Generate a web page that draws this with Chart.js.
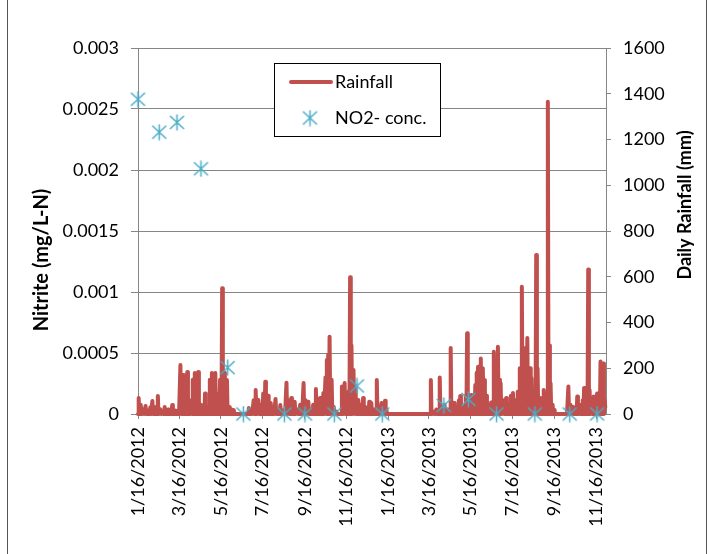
<!DOCTYPE html>
<html>
<head>
<meta charset="utf-8">
<script src="https://cdn.jsdelivr.net/npm/chart.js@4.4.1/dist/chart.umd.min.js"></script>
<style>
  html, body { margin: 0; padding: 0; background: #fff; }
  #wrap { width: 715px; height: 554px; }
</style>
</head>
<body>
<div id="wrap"><canvas id="chart" width="715" height="554"></canvas></div>
<script>
// days counted from 1/16/2012
const tickDays = [0, 60, 121, 182, 244, 305, 366, 425, 486, 547, 609, 670];
const tickLabels = ['1/16/2012', '3/16/2012', '5/16/2012', '7/16/2012', '9/16/2012', '11/16/2012',
                    '1/16/2013', '3/16/2013', '5/16/2013', '7/16/2013', '9/16/2013', '11/16/2013'];
const lastDay = 684;

// rainy days only (mm); every other day is 0
const rainDays = [1, 4, 8, 11, 15, 18, 21, 25, 29, 33, 36, 39, 44, 47, 50, 55, 58, 62, 64, 66, 69, 72, 75, 78, 80, 83, 86, 88, 92, 95, 98, 102, 105, 108, 110, 113, 116, 118, 120, 123, 126, 128, 130, 133, 137, 140,
  162, 165, 169, 172, 176, 180, 183, 186, 190, 194, 198, 201, 205, 208, 212, 217, 220, 224, 229, 233, 237, 242, 245, 249, 253, 256, 260, 263, 266, 271, 274, 276, 278, 280, 283, 286, 290, 298, 302, 305, 308, 310, 312, 315, 318, 322, 325, 329, 333, 338, 341, 345, 349, 353, 356, 361, 363,
  428, 432, 436, 441, 444, 448, 452, 457, 459, 462, 466, 469, 471, 476, 479, 481, 484, 487, 490, 493, 495, 497, 499, 501, 504, 506, 509, 512, 516, 520, 523, 526, 528, 530, 534, 538, 542, 545, 548, 551, 555, 558, 561, 563, 566, 569, 573, 575, 578, 582, 584, 586, 588, 591, 593, 596, 599, 601, 603, 606, 608,
  629, 632, 635, 639, 642, 645, 647, 650, 652, 655, 658, 660, 663, 666, 669, 671, 674, 676, 678, 680, 682, 683];
const rainMm = [70, 40, 20, 35, 15, 30, 57, 30, 79, 20, 10, 31, 20, 10, 39, 15, 10, 214, 150, 170, 120, 184, 60, 30, 150, 179, 170, 184, 40, 20, 90, 30, 150, 179, 120, 179, 90, 40, 150, 550, 180, 120, 149, 31, 20, 17,
  26, 10, 60, 105, 61, 40, 90, 141, 80, 48, 30, 66, 20, 39, 15, 137, 60, 70, 54, 20, 40, 135, 60, 54, 20, 40, 109, 50, 70, 92, 160, 236, 260, 338, 150, 32, 10, 120, 135, 40, 100, 598, 300, 192, 110, 61, 40, 70, 30, 54, 48, 20, 149, 30, 48, 58, 20,
  149, 10, 20, 160, 30, 40, 20, 288, 50, 48, 30, 60, 79, 32, 80, 353, 60, 83, 60, 127, 180, 207, 150, 243, 200, 149, 80, 39, 50, 272, 100, 294, 150, 134, 60, 70, 40, 80, 92, 60, 97, 200, 556, 220, 288, 332, 200, 157, 60, 695, 200, 60, 70, 40, 105, 60, 1365, 300, 134, 40, 17,
  120, 40, 32, 30, 76, 20, 39, 60, 114, 100, 632, 105, 50, 76, 40, 90, 60, 229, 120, 221, 60, 30];

const no2Days = [0, 31, 57, 92, 131, 154, 214, 244, 287, 320, 357, 447, 483, 524, 580, 631, 671];
const no2Conc = [0.00258, 0.00231, 0.00239, 0.00201, 0.00038, 0, 0, 0, 0, 0.00023, 0, 0.00007, 0.00012, 0, 0, 0, 0];

const RED = '#C0504D';
const BLUE = '#4BACC6';
const GRID = '#868686';
const FONT = 'Lato, "Open Sans", sans-serif';

// daily rainfall table
const rainByDay = {};
rainDays.forEach((d, i) => { rainByDay[d] = rainMm[i]; });
const rainPoints = [];
for (let d = 0; d < lastDay; d++) rainPoints.push({ x: d, y: rainByDay[d] || 0 });

const no2Points = no2Days.map((d, i) => ({ x: d, y: no2Conc[i] }));

// Excel style asterisk marker
function asterisk() {
    const c = document.createElement('canvas');
    c.width = 17; c.height = 17;
    const g = c.getContext('2d');
    g.strokeStyle = BLUE;
    g.lineWidth = 1.5;
    g.beginPath();
    g.moveTo(1.5, 2); g.lineTo(15.5, 15);
    g.moveTo(15.5, 2); g.lineTo(1.5, 15);
    g.moveTo(8.5, 0.5); g.lineTo(8.5, 16.5);
    g.stroke();
    return c;
}
const marker = asterisk();

const decorations = {
    id: 'decorations',
    beforeDraw(chart) {
        const ctx = chart.ctx;
        ctx.save();
        ctx.fillStyle = '#fff';
        ctx.fillRect(0, 0, chart.width, chart.height);
        ctx.restore();
    },
    afterDraw(chart) {
        const ctx = chart.ctx;
        ctx.save();
        // chart frame
        ctx.strokeStyle = '#555';
        ctx.lineWidth = 1;
        ctx.beginPath();
        ctx.moveTo(7.5, 0); ctx.lineTo(7.5, 554);
        ctx.moveTo(706.5, 0); ctx.lineTo(706.5, 554);
        ctx.stroke();

        // axis titles
        ctx.fillStyle = '#000';
        ctx.textAlign = 'center';
        ctx.textBaseline = 'middle';
        ctx.font = 'bold 20px ' + FONT;
        ctx.save();
        ctx.translate(42, 260);
        ctx.rotate(-Math.PI / 2);
        ctx.fillText('Nitrite (mg/L-N)', 0, 0);
        ctx.restore();
        ctx.font = 'bold 18px ' + FONT;
        ctx.save();
        ctx.translate(685, 205);
        ctx.rotate(-Math.PI / 2);
        ctx.fillText('Daily Rainfall (mm)', 0, 0);
        ctx.restore();

        // legend
        ctx.fillStyle = '#fff';
        ctx.fillRect(274.5, 63.5, 166, 73);
        ctx.strokeStyle = '#000';
        ctx.strokeRect(274.5, 63.5, 166, 73);
        ctx.strokeStyle = RED;
        ctx.lineWidth = 4;
        ctx.lineCap = 'round';
        ctx.beginPath();
        ctx.moveTo(291, 82); ctx.lineTo(331, 82);
        ctx.stroke();
        ctx.drawImage(marker, 310 - 8.5, 118 - 8.5);
        ctx.fillStyle = '#000';
        ctx.font = '18px ' + FONT;
        ctx.textAlign = 'left';
        ctx.fillText('Rainfall', 335, 82);
        ctx.fillText('NO2- conc.', 335, 118);
        ctx.restore();
    }
};

new Chart(document.getElementById('chart'), {
    type: 'scatter',
    data: {
        datasets: [
            {
                label: 'NO2- conc.',
                data: no2Points,
                yAxisID: 'y',
                pointStyle: marker,
                pointRadius: 8,
                clip: false,
                order: 0
            },
            {
                label: 'Rainfall',
                data: rainPoints,
                yAxisID: 'y1',
                showLine: true,
                borderColor: RED,
                backgroundColor: RED,
                borderWidth: 4,
                borderCapStyle: 'round',
                borderJoinStyle: 'round',
                pointRadius: 0,
                tension: 0,
                clip: false,
                order: 1
            }
        ]
    },
    options: {
        responsive: false,
        animation: false,
        devicePixelRatio: 1,
        layout: { padding: { left: 0, right: 0, top: 48, bottom: 0 } },
        plugins: {
            legend: { display: false },
            tooltip: { enabled: false }
        },
        scales: {
            x: {
                type: 'linear',
                min: 0,
                max: lastDay,
                afterBuildTicks: scale => { scale.ticks = tickDays.map(v => ({ value: v })); },
                afterFit: scale => { scale.height = 140; },
                grid: { drawOnChartArea: false, drawTicks: true, tickLength: 5, color: GRID },
                border: { color: GRID },
                ticks: {
                    minRotation: 90,
                    maxRotation: 90,
                    padding: 8,
                    color: '#000',
                    font: { family: FONT, size: 18 },
                    callback: v => tickLabels[tickDays.indexOf(v)]
                }
            },
            y: {
                position: 'left',
                min: 0,
                max: 0.003,
                afterFit: scale => { scale.width = 138; },
                grid: { color: GRID, tickLength: 7 },
                border: { color: GRID },
                ticks: {
                    stepSize: 0.0005,
                    padding: 12,
                    color: '#000',
                    font: { family: FONT, size: 18 },
                    callback: v => String(Number(v.toFixed(4)))
                }
            },
            y1: {
                position: 'right',
                min: 0,
                max: 1600,
                afterFit: scale => { scale.width = 109; },
                grid: { drawOnChartArea: false, tickLength: 5, color: GRID },
                border: { color: GRID },
                ticks: {
                    stepSize: 200,
                    padding: 12,
                    color: '#000',
                    font: { family: FONT, size: 18 },
                    callback: v => String(v)
                }
            }
        }
    },
    plugins: [decorations]
});
</script>
</body>
</html>
